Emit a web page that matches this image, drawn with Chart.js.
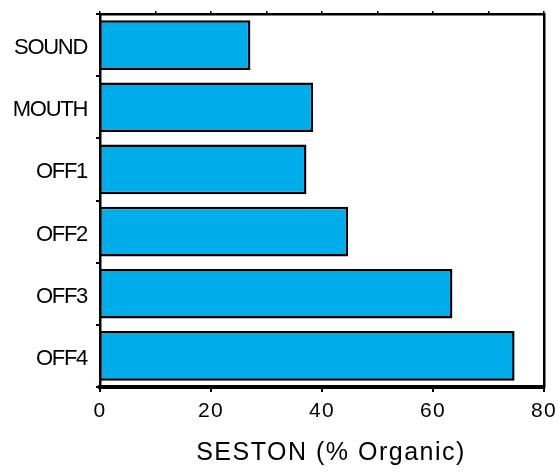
<!DOCTYPE html>
<html>
<head>
<meta charset="utf-8">
<script src="https://cdn.jsdelivr.net/npm/chart.js@4"></script>
<style>
  html, body { margin: 0; padding: 0; background: #fff; }
  #wrap { width: 558px; height: 476px; }
</style>
</head>
<body>
<div id="wrap"><canvas id="c" width="558" height="476"></canvas></div>
<script>
// Seston organic content by station
const stations = ['SOUND', 'MOUTH', 'OFF1', 'OFF2', 'OFF3', 'OFF4'];
const organicPct = [27.1, 38.4, 37.2, 44.7, 63.5, 74.7];
const axisMin = 0;
const axisMax = 80;
const labelStep = 20;
const minorStep = 10;
const axisTitle = 'SESTON (% Organic)';

const FONT = "'Liberation Sans', Arial, Helvetica, sans-serif";

// Per-scale letter spacing for tick labels and titles
const textSpacing = {
  id: 'textSpacing',
  beforeDraw(chart) {
    const ctx = chart.ctx;
    const wrap = (scale, name, px, dx) => {
      if (!scale || scale['_sp_' + name]) return;
      const orig = Object.getPrototypeOf(scale)[name];
      scale[name] = function (...a) {
        const prev = ctx.letterSpacing;
        ctx.save();
        ctx.translate(dx || 0, 0);
        ctx.letterSpacing = px + 'px';
        orig.apply(this, a);
        ctx.restore();
        ctx.letterSpacing = prev;
      };
      scale['_sp_' + name] = true;
    };
    wrap(chart.scales.y, 'drawLabels', -1.3, 0);
    wrap(chart.scales.x, 'drawLabels', 1.2, 0);
    wrap(chart.scales.x, 'drawTitle', 1.5, 9);
  }
};

// keep the plot frame exactly where the layout puts it
function noEdgePadding(s) {
  s.paddingTop = 0;
  s.paddingBottom = 0;
  s.paddingLeft = 0;
  s.paddingRight = 0;
}

new Chart(document.getElementById('c'), {
  type: 'bar',
  data: {
    labels: stations,
    datasets: [{
      data: organicPct,
      backgroundColor: '#00ADEB',
      borderColor: '#000',
      borderWidth: 2.5,
      borderSkipped: 'start',
      barPercentage: 0.8,
      categoryPercentage: 1.0
    }]
  },
  plugins: [textSpacing],
  options: {
    indexAxis: 'y',
    responsive: false,
    animation: false,
    devicePixelRatio: 1,
    layout: { padding: { top: 11, right: 14, bottom: 8, left: 0 } },
    plugins: {
      legend: { display: false },
      tooltip: { enabled: false }
    },
    scales: {
      x: {
        position: 'bottom',
        min: axisMin,
        max: axisMax,
        afterFit(s) { s.height = 81; noEdgePadding(s); },
        ticks: {
          stepSize: labelStep,
          color: '#000',
          padding: 7,
          maxRotation: 0,
          font: { family: FONT, size: 21 },
          z: 1
        },
        grid: {
          drawOnChartArea: false,
          drawTicks: true,
          tickLength: 5,
          color: '#000',
          lineWidth: 2,
          z: 1
        },
        border: { display: true, color: '#000', width: 4, z: 1 },
        title: {
          display: true,
          text: axisTitle,
          color: '#000',
          padding: { top: 0, bottom: 0 },
          font: { family: FONT, size: 25 }
        }
      },
      x2: {
        type: 'linear',
        position: 'top',
        min: axisMin,
        max: axisMax,
        afterFit(s) { s.height = 3; noEdgePadding(s); },
        ticks: { display: false, stepSize: minorStep },
        grid: {
          drawOnChartArea: false,
          drawTicks: true,
          tickLength: 3,
          color: '#000',
          lineWidth: 1.5,
          z: 1
        },
        border: { display: true, color: '#000', width: 2.5, z: 1 }
      },
      y: {
        position: 'left',
        afterFit(s) { s.width = 100; noEdgePadding(s); },
        ticks: {
          color: '#000',
          padding: 9,
          labelOffset: 3,
          font: { family: FONT, size: 22 }
        },
        grid: {
          offset: true,
          drawOnChartArea: false,
          drawTicks: true,
          tickLength: 4,
          color: '#000',
          lineWidth: 2,
          z: 1
        },
        border: { display: true, color: '#000', width: 2.5, z: 1 }
      },
      y2: {
        type: 'category',
        position: 'right',
        afterFit(s) { s.width = 0; noEdgePadding(s); },
        ticks: { display: false },
        grid: { display: false },
        border: { display: true, color: '#000', width: 2.5, z: 1 }
      }
    }
  }
});
</script>
</body>
</html>
